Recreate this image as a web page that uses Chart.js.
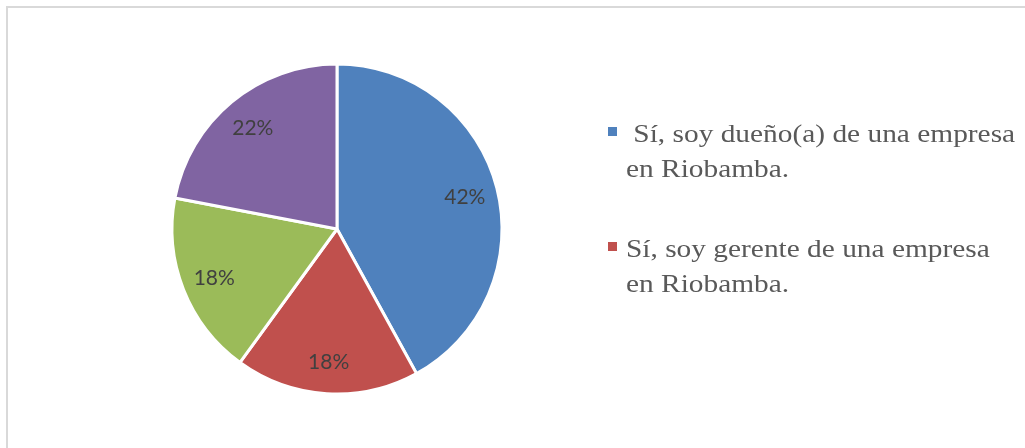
<!DOCTYPE html>
<html>
<head>
<meta charset="utf-8">
<script src="https://cdn.jsdelivr.net/npm/chart.js@4"></script>
<style>
  html, body { margin: 0; padding: 0; background: #fff; overflow: hidden; }
  #wrap { position: relative; width: 1025px; height: 448px; }
  #frame { position: absolute; left: 6px; top: 6px; width: 1100px; height: 500px;
           border: 2px solid #d9d9d9; box-sizing: border-box; }
  #chart { position: absolute; left: 0; top: 0; }
  #legend { position: absolute; left: 606px; top: 116px; font-family: "Liberation Serif", "Times New Roman", serif;
            font-size: 25px; line-height: 35px; color: #595959; }
  #legend .item { position: relative; height: 115px; }
  #legend .box { position: absolute; left: 2px; top: 11px; width: 9px; height: 9px; }
  #legend .txt { position: absolute; left: 20px; top: 0; white-space: pre; display: inline-block;
                 transform: scaleX(1.175); transform-origin: 0 0; }
</style>
</head>
<body>
<div id="wrap">
  <div id="frame"></div>
  <canvas id="chart" width="1025" height="448"></canvas>
  <div id="legend"></div>
</div>
<script>
const labels = [
  ' Sí, soy dueño(a) de una empresa\nen Riobamba.',
  'Sí, soy gerente de una empresa\nen Riobamba.',
  'Otro',
  'No'
]
const values = [42, 18, 18, 22]
const colors = ['#4F81BD', '#C0504D', '#9BBB59', '#8064A2']
const legendCount = 2

const pctLabels = {
  id: 'pctLabels',
  afterDatasetsDraw(chart) {
    const ctx = chart.ctx
    const meta = chart.getDatasetMeta(0)
    const total = values.reduce((a, b) => a + b, 0)
    ctx.save()
    ctx.font = '21px Lato, "Open Sans", sans-serif'
    ctx.fillStyle = '#404040'
    ctx.textAlign = 'center'
    ctx.textBaseline = 'middle'
    meta.data.forEach((arc, i) => {
      const p = arc.getProps(['x', 'y', 'startAngle', 'endAngle', 'outerRadius'], true)
      const mid = (p.startAngle + p.endAngle) / 2
      const r = p.outerRadius * 0.8
      ctx.fillText(Math.round(values[i] / total * 100) + '%', p.x + Math.cos(mid) * r, p.y + Math.sin(mid) * r + 1)
    })
    ctx.restore()
  }
}

const chart = new Chart(document.querySelector('#chart').getContext('2d'), {
  type: 'pie',
  data: {
    labels: labels,
    datasets: [{
      data: values,
      backgroundColor: colors,
      borderColor: '#ffffff',
      borderWidth: 3,
      radius: 165
    }]
  },
  options: {
    responsive: false,
    animation: false,
    layout: { padding: { left: 0, right: 351, top: 10, bottom: 0 } },
    plugins: {
      legend: { display: false },
      tooltip: { enabled: false }
    }
  },
  plugins: [pctLabels]
})

const legendEl = document.querySelector('#legend')
labels.slice(0, legendCount).forEach((text, i) => {
  const item = document.createElement('div')
  item.className = 'item'
  const box = document.createElement('span')
  box.className = 'box'
  box.style.background = colors[i]
  const span = document.createElement('span')
  span.className = 'txt'
  span.textContent = text
  item.appendChild(box)
  item.appendChild(span)
  legendEl.appendChild(item)
})
</script>
</body>
</html>
